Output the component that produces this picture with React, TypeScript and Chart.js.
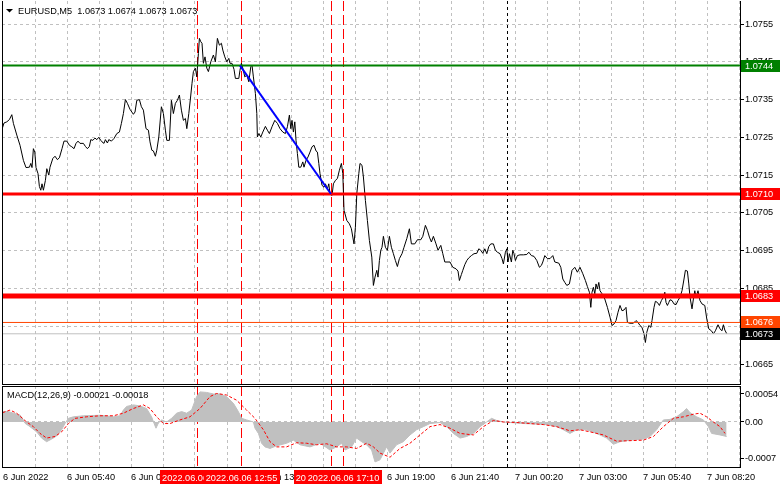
import React, { useEffect, useRef } from 'react';
import { Chart, registerables } from 'chart.js';

Chart.register(...registerables);

// ---------- text ----------
const titleText = 'EURUSD,M5  1.0673 1.0674 1.0673 1.0673';
const macdTitle = 'MACD(12,26,9) -0.00021 -0.00018';

// ---------- time axis (5-minute bars counted from 6 Jun 03:00) ----------
const barsPerGrid = 16;
const xMin = 0;
const xMax = 369;
const timeLabels = [
  '6 Jun 2022', '6 Jun 05:40', '6 Jun 08:20', '6 Jun 11:00', '6 Jun 13:40', '6 Jun 16:20',
  '6 Jun 19:00', '6 Jun 21:40', '7 Jun 00:20', '7 Jun 03:00', '7 Jun 05:40', '7 Jun 08:20',
];

// ---------- price series ----------
const priceBars = [
  0, 1.0, 2.4, 3.7, 4.9, 5.7, 7.4, 9.0, 10.7, 12.0, 13.7, 14.4, 15.0, 15.7, 16.4, 17.0, 18.0, 18.7, 19.4, 20.0,
  20.7, 21.7, 22.4, 23.4, 24.0, 25.4, 26.5, 27.7, 28.7, 30.0, 31.0, 32.4, 33.7, 34.9, 36.0, 37.0, 38.0, 39.0, 40.7, 41.7,
  42.7, 43.7, 44.4, 45.4, 46.5, 47.4, 48.4, 49.4, 50.0, 51.0, 51.7, 52.7, 53.4, 54.7, 56.0, 57.4, 58.7, 59.7, 60.7, 61.7,
  62.7, 64.0, 65.7, 66.5, 67.4, 68.7, 69.7, 70.7, 72.0, 73.2, 74.0, 74.9, 75.7, 76.7, 77.4, 78.4, 79.7, 80.7, 81.7, 82.4,
  83.7, 84.7, 85.7, 86.7, 87.7, 88.7, 89.7, 90.7, 91.7, 92.4, 93.4, 94.4, 95.0, 95.7, 96.7, 97.4, 98.2, 98.7, 99.4, 100.0,
  100.7, 101.5, 102.4, 103.2, 104.4, 105.7, 106.7, 107.7, 108.7, 109.7, 110.4, 111.4, 112.4, 113.4, 114.0, 115.0, 116.0, 116.7, 118.4, 119.0,
  119.7, 120.4, 121.4, 122.4, 123.4, 124.4, 125.0, 125.7, 126.7, 127.4, 127.7, 128.4, 129.4, 130.4, 131.7, 132.7, 133.7, 135.0, 136.4, 137.7,
  139.0, 140.4, 141.7, 142.7, 143.7, 144.4, 145.0, 145.7, 146.4, 147.0, 147.7, 148.4, 149.4, 150.4, 151.0, 152.0, 153.0, 154.0, 155.0, 156.0,
  157.0, 157.7, 158.4, 159.0, 160.0, 161.0, 161.7, 162.7, 163.4, 164.0, 165.0, 165.7, 166.7, 167.7, 168.7, 169.7, 170.4, 171.0, 172.4, 173.7,
  174.7, 175.4, 176.0, 176.7, 177.4, 178.4, 179.0, 180.0, 180.7, 181.7, 182.7, 183.7, 184.9, 185.7, 186.5, 187.4, 188.0, 188.7, 189.4, 190.0,
  190.7, 191.7, 192.7, 193.7, 194.7, 195.7, 196.7, 197.7, 198.7, 200.0, 201.0, 202.4, 203.7, 204.7, 206.4, 207.7, 209.4, 210.4, 211.7, 212.7,
  213.7, 214.7, 215.7, 217.0, 218.0, 219.4, 220.4, 221.4, 224.0, 225.4, 227.0, 228.0, 228.7, 229.7, 230.4, 231.4, 232.4, 233.4, 234.7, 236.0,
  237.4, 238.4, 239.4, 240.4, 241.4, 242.4, 243.4, 244.4, 245.7, 246.7, 247.7, 249.0, 250.0, 250.7, 251.7, 252.4, 253.0, 253.7, 254.7, 255.4,
  256.0, 256.7, 257.7, 259.0, 260.7, 262.4, 263.4, 264.7, 266.0, 267.4, 268.7, 269.7, 270.4, 271.4, 272.7, 274.0, 275.4, 276.4, 278.4, 279.4,
  280.4, 281.4, 282.4, 283.7, 285.0, 286.4, 287.7, 289.0, 290.4, 291.7, 292.7, 293.7, 294.4, 295.0, 295.7, 296.4, 297.0, 297.7, 298.4, 299.0,
  300.0, 301.4, 302.7, 304.0, 305.0, 306.0, 307.0, 308.0, 309.0, 310.0, 311.0, 312.0, 312.7, 314.0, 315.7, 317.0, 318.0, 319.0, 320.0, 321.0,
  321.7, 322.4, 323.4, 324.4, 325.0, 326.0, 326.7, 327.7, 328.7, 329.7, 330.7, 331.4, 332.0, 332.7, 333.4, 334.0, 335.0, 336.0, 337.0, 338.0,
  339.0, 340.0, 341.0, 341.7, 342.7, 343.4, 344.0, 345.0, 345.7, 346.4, 347.0, 348.0, 349.0, 350.0, 351.4, 352.4, 353.4, 354.7, 355.7, 356.7,
  358.0, 359.0, 360.0, 360.7, 361.4, 362.4,
];
const priceCloses = [
  1.07271, 1.07288, 1.07291, 1.07297, 1.07310, 1.07287, 1.07256, 1.07229, 1.07189, 1.07170, 1.07171, 1.07181, 1.07170, 1.07220, 1.07211, 1.07170, 1.07154, 1.07120, 1.07110, 1.07127,
  1.07110, 1.07136, 1.07167, 1.07150, 1.07171, 1.07194, 1.07200, 1.07191, 1.07196, 1.07220, 1.07240, 1.07240, 1.07229, 1.07225, 1.07220, 1.07234, 1.07240, 1.07234, 1.07234, 1.07226,
  1.07220, 1.07226, 1.07244, 1.07242, 1.07248, 1.07244, 1.07250, 1.07242, 1.07238, 1.07234, 1.07244, 1.07235, 1.07244, 1.07240, 1.07247, 1.07260, 1.07264, 1.07287, 1.07313, 1.07350,
  1.07340, 1.07324, 1.07311, 1.07317, 1.07348, 1.07350, 1.07331, 1.07322, 1.07273, 1.07269, 1.07238, 1.07216, 1.07214, 1.07200, 1.07216, 1.07251, 1.07331, 1.07313, 1.07269, 1.07242,
  1.07242, 1.07348, 1.07313, 1.07340, 1.07348, 1.07362, 1.07322, 1.07295, 1.07300, 1.07273, 1.07313, 1.07362, 1.07393, 1.07424, 1.07433, 1.07410, 1.07472, 1.07512, 1.07503, 1.07499,
  1.07446, 1.07463, 1.07433, 1.07424, 1.07450, 1.07468, 1.07450, 1.07512, 1.07494, 1.07499, 1.07481, 1.07463, 1.07450, 1.07459, 1.07446, 1.07446, 1.07430, 1.07406, 1.07406, 1.07428,
  1.07446, 1.07433, 1.07410, 1.07415, 1.07397, 1.07437, 1.07441, 1.07410, 1.07366, 1.07313, 1.07251, 1.07260, 1.07251, 1.07264, 1.07279, 1.07269, 1.07260, 1.07278, 1.07295, 1.07287,
  1.07273, 1.07264, 1.07260, 1.07278, 1.07309, 1.07273, 1.07295, 1.07264, 1.07291, 1.07242, 1.07207, 1.07171, 1.07171, 1.07185, 1.07171, 1.07189, 1.07198, 1.07211, 1.07225, 1.07229,
  1.07214, 1.07211, 1.07181, 1.07154, 1.07123, 1.07118, 1.07127, 1.07114, 1.07127, 1.07101, 1.07096, 1.07127, 1.07136, 1.07141, 1.07163, 1.07181, 1.07154, 1.07057, 1.07030, 1.07021,
  1.07008, 1.06986, 1.06968, 1.07012, 1.07101, 1.07154, 1.07181, 1.07176, 1.07145, 1.07083, 1.07030, 1.06977, 1.06933, 1.06858, 1.06880, 1.06898, 1.06880, 1.06924, 1.06951, 1.06959,
  1.06988, 1.06959, 1.06951, 1.06988, 1.06959, 1.06942, 1.06924, 1.06908, 1.06929, 1.06942, 1.06959, 1.06982, 1.07008, 1.06968, 1.06968, 1.06979, 1.06979, 1.06988, 1.07017, 1.07004,
  1.06986, 1.06973, 1.06988, 1.06968, 1.06951, 1.06964, 1.06942, 1.06920, 1.06920, 1.06906, 1.06902, 1.06896, 1.06871, 1.06887, 1.06898, 1.06913, 1.06924, 1.06931, 1.06937, 1.06942,
  1.06943, 1.06955, 1.06951, 1.06943, 1.06955, 1.06942, 1.06961, 1.06968, 1.06968, 1.06951, 1.06946, 1.06942, 1.06929, 1.06915, 1.06946, 1.06955, 1.06920, 1.06942, 1.06920, 1.06951,
  1.06942, 1.06924, 1.06937, 1.06939, 1.06939, 1.06940, 1.06946, 1.06937, 1.06935, 1.06924, 1.06906, 1.06911, 1.06920, 1.06937, 1.06929, 1.06929, 1.06937, 1.06920, 1.06917, 1.06906,
  1.06875, 1.06866, 1.06858, 1.06862, 1.06898, 1.06906, 1.06893, 1.06906, 1.06889, 1.06871, 1.06855, 1.06840, 1.06800, 1.06840, 1.06853, 1.06836, 1.06862, 1.06849, 1.06866, 1.06844,
  1.06836, 1.06822, 1.06800, 1.06774, 1.06752, 1.06756, 1.06765, 1.06787, 1.06805, 1.06791, 1.06793, 1.06800, 1.06760, 1.06758, 1.06758, 1.06765, 1.06760, 1.06752, 1.06747, 1.06730,
  1.06707, 1.06734, 1.06752, 1.06747, 1.06765, 1.06800, 1.06816, 1.06813, 1.06805, 1.06818, 1.06827, 1.06840, 1.06813, 1.06805, 1.06813, 1.06820, 1.06818, 1.06809, 1.06807, 1.06818,
  1.06827, 1.06844, 1.06875, 1.06898, 1.06896, 1.06862, 1.06827, 1.06796, 1.06822, 1.06844, 1.06827, 1.06844, 1.06818, 1.06809, 1.06805, 1.06769, 1.06743, 1.06738, 1.06730, 1.06738,
  1.06754, 1.06743, 1.06738, 1.06754, 1.06740, 1.06730,
];

// ---------- price axis ----------
const priceMin = 1.065971;
const priceMax = 1.076109;
const priceTicks = [1.0665, 1.0675, 1.0685, 1.0695, 1.0705, 1.0715, 1.0725, 1.0735, 1.0745, 1.0755];

// ---------- horizontal levels ----------
const levelPrices = [1.0744, 1.0710, 1.0683, 1.0676, 1.0673];

// ---------- trend line ----------
const trendBars = [119, 164.5];
const trendPrices = [1.0744, 1.0710];

// ---------- vertical lines ----------
const vLineBars = [97.5, 119.5, 164.5, 170.5];
const vLineLabels = ['2022.06.06 11:05', '2022.06.06 12:55', '2022.06.06 16:40', '2022.06.06 17:10'];
const daySeparatorBar = 252.5;

// ---------- MACD ----------
const macdMin = -0.000868;
const macdMax = 0.000694;
const macdTicks = [0.00054, 0, -0.0007];
const macdTickLabels = ['0.00054', '0.00', '-0.0007'];

const histBars = [
  0.3, 3.2, 5.7, 9.0, 10.7, 11.5, 14.0, 17.3, 19.8, 22.3, 24.8, 27.3, 29.8, 31.5, 33.2, 35.7, 40.7, 49.0, 55.7, 59.0,
  60.7, 62.3, 65.7, 69.0, 72.3, 74.8, 76.0, 77.0, 78.2, 79.8, 82.3, 84.8, 87.3, 89.8, 92.3, 94.8, 97.3, 99.0, 102.3, 105.7,
  109.0, 112.3, 115.7, 118.2, 119.8, 122.3, 125.7, 126.5, 128.2, 129.8, 131.5, 134.0, 137.3, 142.3, 145.7, 149.0, 154.0, 159.0, 164.0, 167.3,
  169.8, 171.5, 174.8, 177.3, 179.8, 182.3, 184.8, 186.5, 189.0, 192.3, 194.0, 197.3, 200.7, 204.0, 207.3, 210.7, 214.0, 219.0, 222.3, 225.7,
  229.0, 232.3, 235.7, 239.0, 242.3, 244.8, 247.3, 250.7, 254.0, 260.7, 267.3, 272.3, 277.3, 280.7, 284.0, 287.3, 292.3, 297.3, 302.3, 305.7,
  309.0, 314.0, 320.7, 324.0, 327.3, 330.7, 334.0, 337.3, 340.7, 342.3, 344.0, 347.3, 350.7, 353.2, 354.8, 359.0, 362.3,
];
const histValues = [
  0.0002, 0.0002, 0.00017, 0.000135, 0.00004, -0.000025, -0.00009, -0.00019, -0.00031, -0.00038, -0.00033, -0.00027, -0.00015, -0.00003, 0.00007, 0.0001, 0.00012, 0.00013, 0.0001, 0.00012,
  0.00023, 0.0003, 0.00033, 0.00031, 0.00026, 0.0001, -0.000025, -0.00012, -0.00002, 0.00004, 0.0, 0.00007, 0.00017, 0.0002, 0.00017, 0.00023, 0.00049, 0.00058, 0.00057, 0.00054,
  0.00054, 0.00049, 0.00036, 0.0002, 0.00007, 0.00004, 0.0, -0.00012, -0.00022, -0.00041, -0.00048, -0.00051, -0.00046, -0.00041, -0.00035, -0.00044, -0.00048, -0.00041, -0.00054, -0.00048,
  -0.00041, -0.00054, -0.00048, -0.00031, -0.00038, -0.00044, -0.00054, -0.00077, -0.00073, -0.00048, -0.0006, -0.00044, -0.00038, -0.00025, -0.00015, -0.00009, -0.00003, -0.00001, -0.00009, -0.00022,
  -0.00031, -0.00028, -0.00022, -0.00009, 0.0, 0.00007, 0.00003, 0.0, -0.00001, -0.00003, -0.00004, -0.00005, -0.00009, -0.00015, -0.00022, -0.00015, -0.00015, -0.00022, -0.00031, -0.00043,
  -0.00038, -0.00035, -0.00033, -0.00028, -0.00015, 0.00004, 0.00005, 0.0001, 0.0002, 0.00026, 0.00018, 0.0001, 0.00004, -0.00009, -0.00022, -0.00025, -0.00028,
];

const signalBars = [
  0.3, 4.0, 7.3, 12.3, 15.7, 19.0, 22.3, 26.5, 29.8, 33.2, 36.5, 42.3, 49.0, 55.7, 60.7, 65.7, 70.7, 74.0, 77.3, 80.7,
  84.0, 89.0, 94.0, 99.0, 104.0, 107.3, 112.3, 117.3, 122.3, 126.5, 130.7, 134.0, 137.3, 142.3, 147.3, 152.3, 157.3, 162.3, 167.3, 172.3,
  177.3, 182.3, 185.7, 189.0, 194.0, 199.0, 204.0, 209.0, 214.0, 219.0, 224.0, 229.0, 235.7, 240.7, 245.7, 250.7, 257.3, 264.0, 270.7, 277.3,
  284.0, 289.0, 294.0, 300.7, 307.3, 314.0, 320.7, 325.7, 330.7, 335.7, 340.7, 345.7, 349.0, 352.3, 355.7, 359.0, 361.5,
];
const signalValues = [
  0.00018, 0.00023, 0.00017, 0.0, -0.00009, -0.00022, -0.00031, -0.00028, -0.00019, -0.00003, 0.00007, 0.0001, 0.00012, 0.00012, 0.00017, 0.00026, 0.00033, 0.00026, 0.0001, -0.00003,
  -0.00003, 0.00004, 0.0001, 0.00026, 0.00049, 0.00055, 0.00052, 0.00042, 0.00023, 0.00007, -0.00015, -0.00038, -0.00048, -0.00048, -0.0004, -0.00041, -0.00044, -0.00042, -0.00048, -0.00048,
  -0.00051, -0.00041, -0.00048, -0.0006, -0.00068, -0.00051, -0.00041, -0.00025, -0.00009, -0.00005, -0.00012, -0.00022, -0.00025, -0.00009, 0.00003, 0.0, -0.00001, -0.00003, -0.00005, -0.00009,
  -0.00017, -0.00015, -0.00019, -0.00025, -0.00037, -0.00036, -0.00035, -0.00028, -0.00009, 0.00007, 0.0001, 0.00015, 0.00017, 0.0001, 0.0, -0.00009, -0.00022,
];

// ---------- styling ----------
const FONT_FAMILY = '"Liberation Sans", Arial, sans-serif';
const FONT_SIZE = 9.2;
const CSS_FONT = `${FONT_SIZE}px ${FONT_FAMILY}`;
const GRID_COLOR = '#c0c0c0';
const AXIS_WIDTH = 41;
const levelStyles = [
  { color: '#008000', width: 2, box: '#008000' },
  { color: '#ff0000', width: 3, box: '#ff0000' },
  { color: '#ff0000', width: 5, box: '#ff0000' },
  { color: '#ff4500', width: 1, box: '#ff4500' },
  { color: '#c0c0c0', width: 1, box: '#000000' },
];

function pts(xs: number[], ys: number[]) {
  return xs.map((x, i) => ({ x, y: ys[i] }));
}

function xScaleOptions(showLabels: boolean) {
  return {
    type: 'linear',
    min: xMin,
    max: xMax,
    afterBuildTicks: (s: any) => {
      const t: any[] = [];
      for (let v = 0.5; v < xMax; v += barsPerGrid) t.push({ value: v });
      s.ticks = t;
    },
    afterFit: (s: any) => {
      s.height = showLabels ? 22 : 0;
      s.paddingLeft = 0;
      s.paddingRight = 0;
      s.paddingTop = 0;
      s.paddingBottom = 0;
    },
    grid: {
      color: (ctx: any) => (ctx.index === 0 ? 'rgba(0,0,0,0)' : GRID_COLOR),
      lineWidth: 1,
      drawTicks: false,
    },
    border: { display: true, color: '#000', width: 1, dash: [3, 3] },
    ticks: {
      display: showLabels,
      autoSkip: false,
      maxRotation: 0,
      minRotation: 0,
      align: 'start',
      padding: 5,
      color: '#000',
      font: { family: FONT_FAMILY, size: FONT_SIZE },
      callback: (value: any) => {
        const k = Math.round((Number(value) - 0.5) / barsPerGrid);
        if (k % 2 !== 0) return '';
        return timeLabels[k / 2] ?? '';
      },
    },
  };
}

function drawVerticals(chart: any) {
  const { ctx, chartArea: a, scales } = chart;
  const xs = scales.x;
  ctx.save();
  ctx.beginPath();
  ctx.rect(a.left, a.top, a.right - a.left, a.bottom - a.top);
  ctx.clip();
  ctx.lineWidth = 1;
  ctx.strokeStyle = '#ff0000';
  ctx.setLineDash([10, 4]);
  vLineBars.forEach((b) => {
    const px = Math.round(xs.getPixelForValue(b)) + 0.5;
    ctx.beginPath();
    ctx.moveTo(px, a.top);
    ctx.lineTo(px, a.bottom);
    ctx.stroke();
  });
  ctx.strokeStyle = '#000000';
  ctx.setLineDash([3, 3]);
  const px = Math.round(xs.getPixelForValue(daySeparatorBar)) + 0.5;
  ctx.beginPath();
  ctx.moveTo(px, a.top);
  ctx.lineTo(px, a.bottom);
  ctx.stroke();
  ctx.restore();
}

function drawLeftBorder(chart: any, withTop: boolean) {
  const { ctx, chartArea: a } = chart;
  ctx.save();
  ctx.strokeStyle = '#000';
  ctx.lineWidth = 1;
  ctx.beginPath();
  ctx.moveTo(a.left + 0.5, a.top);
  ctx.lineTo(a.left + 0.5, a.bottom);
  if (withTop) {
    ctx.moveTo(a.left, a.top + 0.5);
    ctx.lineTo(a.right, a.top + 0.5);
  }
  ctx.stroke();
  ctx.restore();
}

const pricePanePlugin = {
  id: 'pricePane',
  beforeDatasetsDraw(chart: any) {
    drawVerticals(chart);
  },
  afterDraw(chart: any) {
    const { ctx, chartArea: a, scales } = chart;
    drawLeftBorder(chart, false);
    // level labels on the price axis
    ctx.save();
    ctx.font = CSS_FONT;
    ctx.textBaseline = 'middle';
    ctx.textAlign = 'left';
    levelPrices.forEach((p, i) => {
      const y = Math.round(scales.y.getPixelForValue(p));
      ctx.fillStyle = levelStyles[i].box;
      ctx.fillRect(a.right + 1, y - 6, chart.width - a.right - 2, 12);
      ctx.fillStyle = '#ffffff';
      ctx.fillText(p.toFixed(4), a.right + 5, y + 0.5);
    });
    // title with triangle
    ctx.fillStyle = '#000';
    ctx.beginPath();
    ctx.moveTo(a.left + 4, 9);
    ctx.lineTo(a.left + 11, 9);
    ctx.lineTo(a.left + 7.5, 12.5);
    ctx.closePath();
    ctx.fill();
    ctx.fillText(titleText, a.left + 16, 11);
    ctx.restore();
  },
};

const macdPanePlugin = {
  id: 'macdPane',
  beforeDatasetsDraw(chart: any) {
    drawVerticals(chart);
  },
  afterDraw(chart: any) {
    const { ctx, chartArea: a, scales } = chart;
    drawLeftBorder(chart, true);
    ctx.save();
    ctx.font = CSS_FONT;
    ctx.textBaseline = 'middle';
    ctx.textAlign = 'left';
    ctx.fillStyle = '#000';
    ctx.fillText(macdTitle, a.left + 5, a.top + 9);
    // vertical line time labels
    ctx.textAlign = 'center';
    vLineBars.forEach((b, i) => {
      const px = Math.round(scales.x.getPixelForValue(b)) + 0.5;
      const w = Math.ceil(ctx.measureText(vLineLabels[i]).width) + 4;
      ctx.fillStyle = '#ff0000';
      ctx.fillRect(Math.round(px - w / 2), a.bottom + 3, w, 14);
      ctx.fillStyle = '#ffffff';
      ctx.fillText(vLineLabels[i], px, a.bottom + 11);
    });
    ctx.restore();
  },
};

export default function App() {
  const topRef = useRef<HTMLCanvasElement>(null);
  const botRef = useRef<HTMLCanvasElement>(null);

  useEffect(() => {
    document.body.style.margin = '0';
    const lineBase = { pointRadius: 0, tension: 0, fill: false, borderJoinStyle: 'round' };

    const levelDatasets = levelPrices.map((p, i) => ({
      ...lineBase,
      data: [{ x: xMin, y: p }, { x: xMax, y: p }],
      borderColor: levelStyles[i].color,
      borderWidth: levelStyles[i].width,
    }));

    const c1 = new Chart(topRef.current as HTMLCanvasElement, {
      type: 'line',
      data: {
        datasets: [
          { ...lineBase, data: pts(trendBars, trendPrices), borderColor: '#0000ff', borderWidth: 2 },
          ...levelDatasets,
          { ...lineBase, data: pts(priceBars, priceCloses), borderColor: '#000000', borderWidth: 1 },
        ],
      } as any,
      options: {
        responsive: false,
        animation: false,
        events: [],
        devicePixelRatio: 1,
        layout: { autoPadding: false, padding: { left: 2, top: 1, right: 0, bottom: 1 } },
        plugins: { legend: { display: false }, tooltip: { enabled: false }, title: { display: false } },
        scales: {
          x: xScaleOptions(false),
          y: {
            type: 'linear',
            position: 'right',
            min: priceMin,
            max: priceMax,
            afterBuildTicks: (s: any) => {
              s.ticks = priceTicks.map((v) => ({ value: v }));
            },
            afterFit: (s: any) => {
              s.width = AXIS_WIDTH;
              s.paddingTop = 0;
              s.paddingBottom = 0;
            },
            grid: { color: GRID_COLOR, drawTicks: true, tickLength: 4, tickColor: '#000' },
            border: { display: true, color: '#000', width: 1, dash: [3, 3] },
            ticks: {
              color: '#000',
              padding: 1,
              font: { family: FONT_FAMILY, size: FONT_SIZE },
              callback: (v: any) => Number(v).toFixed(4),
            },
          },
        },
      } as any,
      plugins: [pricePanePlugin],
    });

    const c2 = new Chart(botRef.current as HTMLCanvasElement, {
      type: 'line',
      data: {
        datasets: [
          {
            ...lineBase,
            data: pts(signalBars, signalValues),
            borderColor: '#ff0000',
            borderWidth: 1,
            borderDash: [3, 2],
          },
          {
            ...lineBase,
            data: pts(histBars, histValues),
            borderColor: '#c0c0c0',
            borderWidth: 1,
            backgroundColor: '#c0c0c0',
            fill: 'origin',
          },
        ],
      } as any,
      options: {
        responsive: false,
        animation: false,
        events: [],
        devicePixelRatio: 1,
        layout: { autoPadding: false, padding: { left: 2, top: 1, right: 0, bottom: 0 } },
        plugins: { legend: { display: false }, tooltip: { enabled: false }, title: { display: false } },
        scales: {
          x: xScaleOptions(true),
          y: {
            type: 'linear',
            position: 'right',
            min: macdMin,
            max: macdMax,
            afterBuildTicks: (s: any) => {
              s.ticks = macdTicks.map((v) => ({ value: v }));
            },
            afterFit: (s: any) => {
              s.width = AXIS_WIDTH;
              s.paddingTop = 0;
              s.paddingBottom = 0;
            },
            grid: {
              color: (ctx: any) => (ctx.tick && ctx.tick.value === 0 ? GRID_COLOR : 'rgba(0,0,0,0)'),
              drawTicks: true,
              tickLength: 4,
              tickColor: '#000',
            },
            border: { display: true, color: '#000', width: 1, dash: [3, 3] },
            ticks: {
              color: '#000',
              padding: 1,
              font: { family: FONT_FAMILY, size: FONT_SIZE },
              callback: (v: any) => {
                const i = macdTicks.indexOf(Number(v));
                return i >= 0 ? macdTickLabels[i] : '';
              },
            },
          },
        },
      } as any,
      plugins: [macdPanePlugin],
    });

    return () => {
      c1.destroy();
      c2.destroy();
    };
  }, []);

  return (
    <div style={{ position: 'absolute', left: 0, top: 0, width: 781, height: 489, background: '#ffffff' }}>
      <canvas
        ref={topRef}
        width={781}
        height={385}
        style={{ position: 'absolute', left: 0, top: 0, width: 781, height: 385 }}
      />
      <canvas
        ref={botRef}
        width={781}
        height={104}
        style={{ position: 'absolute', left: 0, top: 385, width: 781, height: 104 }}
      />
    </div>
  );
}
